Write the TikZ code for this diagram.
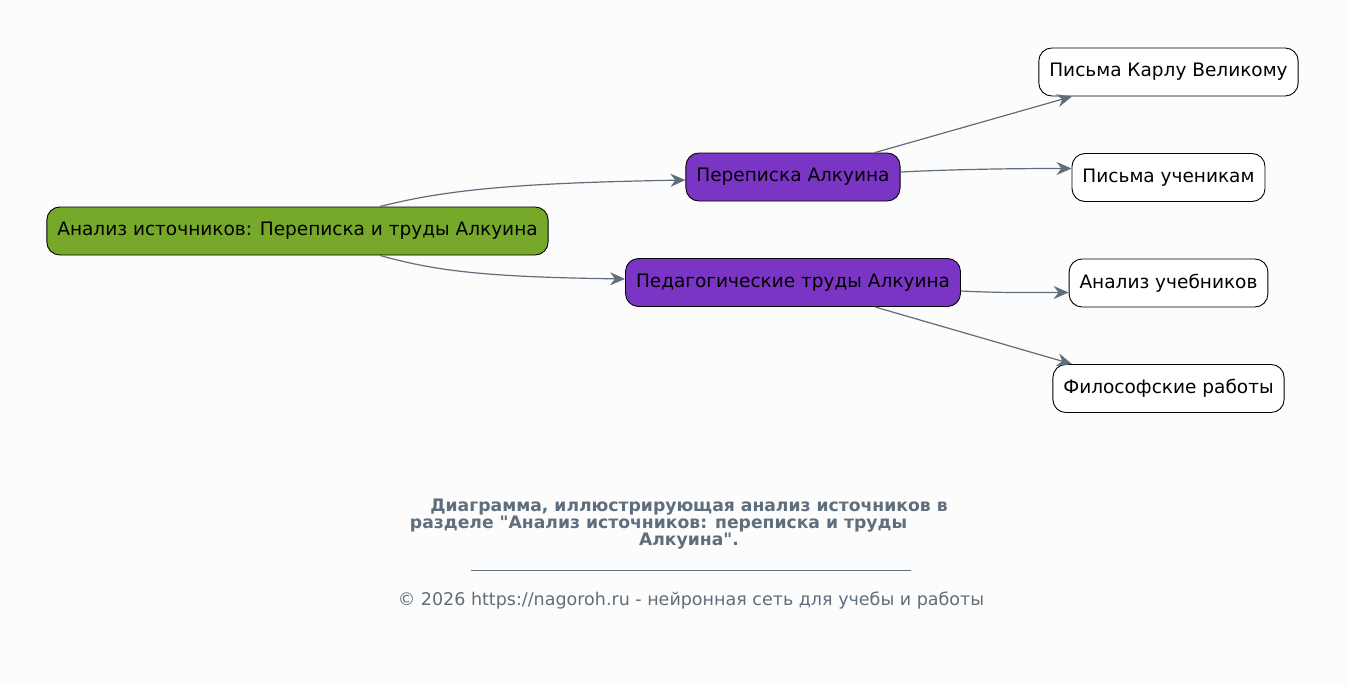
\documentclass[tikz,border=0pt]{standalone}
\usepackage{fontspec}
\setmainfont{DejaVu Sans}
\usetikzlibrary{arrows.meta, positioning}

\definecolor{rootgreen}{HTML}{76A82A}
\definecolor{midpurple}{HTML}{7B35C4}
\definecolor{edgegray}{HTML}{5F6E7D}
\definecolor{pagebg}{HTML}{FCFCFC}

% straight double quote, past the tex-text mapping
\newcommand{\dq}{{\XeTeXglyph\XeTeXcharglyph"22\relax}}

\begin{document}
\begin{tikzpicture}[x=1pt, y=-1pt,
    every node/.style={font=\fontsize{18.5}{22}\selectfont},
    box/.style={draw=black, line width=0.9pt, rounded corners=13pt, minimum height=48pt, inner xsep=10.5pt},
    rootbox/.style={box, fill=rootgreen},
    midbox/.style={box, fill=midpurple},
    leafbox/.style={box, fill=white},
    link/.style={-{Stealth[length=15pt 0 1, width=13pt 0 1]}, draw=edgegray, fill=edgegray, line width=1.2pt},
    node distance=105.5pt]

    \fill [pagebg] (0,0) rectangle (1347,685);
    \useasboundingbox (0,0) rectangle (1347,685);

    \node [rootbox] (A) at (297.5,231) {Анализ источников: Переписка и труды Алкуина};

    \node [midbox] (P) at (793,177) {Переписка Алкуина};
    \node [midbox] (T) [below of = P] {Педагогические труды Алкуина};

    \node [leafbox] (K) at (1168.5,72) {Письма Карлу Великому};
    \node [leafbox] (U) [below of = K] {Письма ученикам};
    \node [leafbox] (R) [below of = U] {Анализ учебников};
    \node [leafbox] (F) [below of = R] {Философские работы};

    \draw [link, fill=none] ([xshift=82.5pt]A.north) .. controls +(70,-18) and +(-160,3) .. ([yshift=-3pt]P.west);
    \draw [link, fill=none] ([xshift=82.5pt]A.south) .. controls +(60,17) and +(-130,-2) .. ([yshift=3.5pt]T.west);

    \draw [link] ([xshift=82pt]P.north) -- ([xshift=-96.5pt]K.south);
    \draw [link, fill=none] ([yshift=5pt]P.east) .. controls +(60,-3) and +(-50,0) .. ([yshift=9pt]U.west);

    \draw [link, fill=none] ([yshift=-8.5pt]T.east) .. controls +(40,2) and +(-40,0) .. ([yshift=-9.5pt]R.west);
    \draw [link] ([xshift=82pt]T.south) -- ([xshift=-96.5pt]F.north);

    \node [align=center, text=edgegray, font=\bfseries\fontsize{17.2}{17}\selectfont] (C) at (689,524)
        {Диаграмма, иллюстрирующая анализ источников в\\
         разделе \dq Анализ источников: переписка и труды\rule{61pt}{0pt}\\
         Алкуина\dq.};
    \draw [edgegray, line width=0.8pt] (471,570) -- (911,570);
    \node [text=edgegray, font=\fontsize{17.5}{20}\selectfont] (W) at (691,601)
        {© 2026 https://nagoroh.ru - нейронная сеть для учебы и работы};

\end{tikzpicture}
\end{document}
